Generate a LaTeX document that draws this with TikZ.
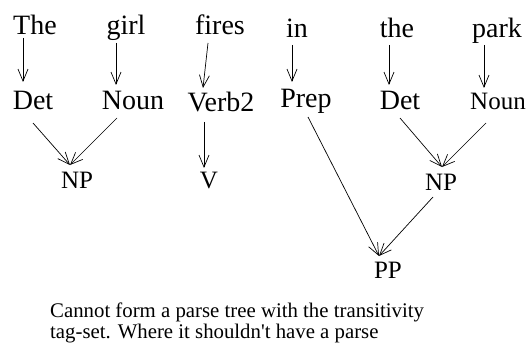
\documentclass[tikz,border=0pt]{standalone}
\usepackage{fontspec}
\setmainfont{Liberation Serif}[Ligatures=TeXOff]
\usetikzlibrary{arrows.meta}
\begin{document}
\begin{tikzpicture}[x=1pt,y=-1pt,
  big/.style={anchor=base,inner sep=0pt,font=\fontsize{28}{30}\selectfont},
  small/.style={anchor=base,inner sep=0pt,font=\fontsize{25}{27}\selectfont},
  arr/.style={line width=0.7pt,-{Straight Barb[length=12pt,width=10pt,line width=0.7pt]}}]
\useasboundingbox (0,0) rectangle (528,345);
% words
\node[big] (w1) at (35,35) {The};
\node[big] (w2) at (126,35) {girl};
\node[big] (w3) at (220,35) {fires};
\node[big] (w4) at (297,38) {in};
\node[big] (w5) at (397,38) {the};
\node[big] (w6) at (497,38) {park};
% tags
\node[big] (t1) at (33,110) {Det};
\node[big] (t2) at (133,110) {Noun};
\node[big] (t3) at (221,111) {Verb2};
\node[big] (t4) at (306,108) {Prep};
\node[big] (t5) at (400,110) {Det};
\node[small] (t6) at (498,110) {Noun};
% phrases
\node[small] (np1) at (77,188) {NP};
\node[small] (v) at (209,188) {V};
\node[small] (np2) at (441,190) {NP};
\node[small] (pp) at (388,278) {PP};
% caption
\node[anchor=base west,inner sep=0pt,align=left,font=\fontsize{20.8}{21}\selectfont] (cap) at (50,338)
  {Cannot form a parse tree with the transitivity\\tag-set. Where it shouldn't have a parse};
% arrows
\draw[arr] ([shift={(-12,3)}]w1.base) -- ([shift={(-10,-28)}]t1.base);
\draw[arr] ([shift={(-10,8)}]w2.base) -- ([shift={(-17,-25)}]t2.base);
\draw[arr] ([shift={(-12,8)}]w3.base) -- ([shift={(-18,-23)}]t3.base);
\draw[arr] ([shift={(-17,11)}]t3.base) -- ([shift={(-5,-20)}]v.base);
\draw[arr] ([shift={(0,13)}]t1.base) -- ([shift={(-7,-23)}]np1.base);
\draw[arr] ([shift={(-16,8)}]t2.base) -- ([shift={(-7,-23)}]np1.base);
\draw[arr] ([shift={(-5,7)}]w4.base) -- ([shift={(-14,-26)}]t4.base);
\draw[arr] ([shift={(-8,7)}]w5.base) -- ([shift={(-11,-25)}]t5.base);
\draw[arr] ([shift={(-13,7)}]w6.base) -- ([shift={(-14,-22)}]t6.base);
\draw[arr] ([shift={(0,8)}]t5.base) -- ([shift={(1,-23)}]np2.base);
\draw[arr] ([shift={(-12,13)}]t6.base) -- ([shift={(1,-23)}]np2.base);
\draw[arr] ([shift={(2,9)}]t4.base) -- ([shift={(-9,-22)}]pp.base);
\draw[arr] ([shift={(-8,7)}]np2.base) -- ([shift={(-9,-22)}]pp.base);
\end{tikzpicture}
\end{document}
